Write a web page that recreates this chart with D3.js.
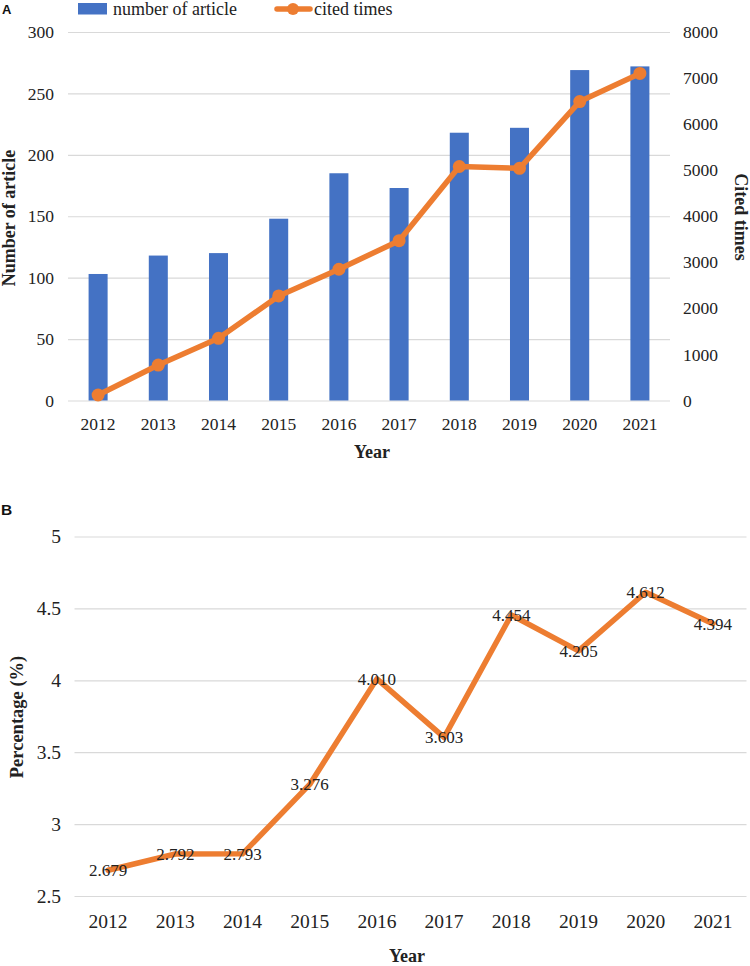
<!DOCTYPE html>
<html>
<head>
<meta charset="utf-8">
<script src="https://cdn.jsdelivr.net/npm/d3@7"></script>
<style>
  html, body { margin: 0; padding: 0; background: #fff; }
  svg { display: block; }
  text { font-family: "Liberation Serif", "Times New Roman", serif; fill: #222; }
  text.panel { font-family: "Liberation Sans", Arial, sans-serif; font-weight: bold; fill: #111; }
</style>
</head>
<body>
<svg id="chart" width="750" height="966"></svg>
<script>
// ---------------- DATA ----------------
const years = ["2012","2013","2014","2015","2016","2017","2018","2019","2020","2021"];
const articleCounts = [103, 118, 120, 148, 185, 173, 218, 222, 269, 272];
const citedTimes = [120, 770, 1350, 2270, 2850, 3470, 5080, 5040, 6490, 7100];
const percentages = [2.679, 2.792, 2.793, 3.276, 4.010, 3.603, 4.454, 4.205, 4.612, 4.394];
const leftTicksA = [0, 50, 100, 150, 200, 250, 300];
const rightTicksA = [0, 1000, 2000, 3000, 4000, 5000, 6000, 7000, 8000];
const ticksB = [2.5, 3, 3.5, 4, 4.5, 5];
const percentLabels = ["2.679","2.792","2.793","3.276","4.010","3.603","4.454","4.205","4.612","4.394"];

const BLUE = "#4472C4", ORANGE = "#ED7D31", GRID = "#d9d9d9";
const svg = d3.select("#chart");
const plain = d3.format("");

// ---------------- PANEL A ----------------
const A = { left: 68, right: 670, top: 32, bottom: 400.5 };
const xA = d3.scaleBand().domain(years).range([A.left, A.right]).paddingInner(0.684).paddingOuter(0.342);
const yL = d3.scaleLinear().domain([0, 300]).range([A.bottom, A.top]);
const yR = d3.scaleLinear().domain([0, 8000]).range([A.bottom, A.top]);

const gA = svg.append("g");

// left axis with gridlines
const axL = gA.append("g").attr("transform", `translate(${A.left},0)`)
  .call(d3.axisLeft(yL).tickValues(leftTicksA).tickFormat(plain).tickSize(-(A.right - A.left)).tickPadding(14));
axL.select(".domain").remove();
axL.selectAll(".tick line").attr("stroke", GRID).attr("stroke-width", 1.2);
axL.selectAll(".tick text").attr("font-size", 17.5);

// right axis
const axR = gA.append("g").attr("transform", `translate(${A.right},0)`)
  .call(d3.axisRight(yR).tickValues(rightTicksA).tickFormat(plain).tickSize(0).tickPadding(13));
axR.select(".domain").remove();
axR.selectAll(".tick text").attr("font-size", 17.5);

// bars
gA.append("g").selectAll("rect").data(years).join("rect")
  .attr("x", d => xA(d))
  .attr("width", xA.bandwidth())
  .attr("y", (d, i) => yL(articleCounts[i]))
  .attr("height", (d, i) => A.bottom - yL(articleCounts[i]))
  .attr("fill", BLUE);

// x axis
const axXA = gA.append("g").attr("transform", `translate(0,${A.bottom})`)
  .call(d3.axisBottom(xA).tickSize(0).tickPadding(17));
axXA.select(".domain").remove();
axXA.selectAll(".tick text").attr("font-size", 17.5);

// cited line
const cx = d => xA(d) + xA.bandwidth() / 2;
const lineA = d3.line().x((d, i) => cx(years[i])).y(d => yR(d));
gA.append("path").datum(citedTimes)
  .attr("d", lineA).attr("fill", "none")
  .attr("stroke", ORANGE).attr("stroke-width", 5.5)
  .attr("stroke-linejoin", "round").attr("stroke-linecap", "round");
gA.append("g").selectAll("circle").data(citedTimes).join("circle")
  .attr("cx", (d, i) => cx(years[i])).attr("cy", d => yR(d))
  .attr("r", 6.5).attr("fill", ORANGE);

// axis titles
gA.append("text").attr("transform", `translate(15,218) rotate(-90)`)
  .attr("text-anchor", "middle").attr("font-size", 18).attr("font-weight", "bold")
  .text("Number of article");
gA.append("text").attr("transform", `translate(735,217) rotate(90)`)
  .attr("text-anchor", "middle").attr("font-size", 18).attr("font-weight", "bold")
  .text("Cited times");
gA.append("text").attr("x", 372).attr("y", 458)
  .attr("text-anchor", "middle").attr("font-size", 18).attr("font-weight", "bold")
  .text("Year");

// legend
const lg = gA.append("g");
lg.append("rect").attr("x", 78).attr("y", 3).attr("width", 29).attr("height", 11.5).attr("fill", BLUE);
lg.append("text").attr("x", 113).attr("y", 15).attr("font-size", 18).text("number of article");
lg.append("line").attr("x1", 277).attr("x2", 310).attr("y1", 9).attr("y2", 9)
  .attr("stroke", ORANGE).attr("stroke-width", 5.5).attr("stroke-linecap", "round");
lg.append("circle").attr("cx", 293).attr("cy", 9).attr("r", 6).attr("fill", ORANGE);
lg.append("text").attr("x", 314).attr("y", 15).attr("font-size", 18).text("cited times");

// panel letter
svg.append("text").attr("class", "panel").attr("x", 2).attr("y", 14)
  .attr("font-size", 13).text("A");

// ---------------- PANEL B ----------------
const B = { left: 74.5, right: 746.5, top: 536.5, bottom: 896 };
const xB = d3.scaleBand().domain(years).range([B.left, B.right]).padding(0);
const yB = d3.scaleLinear().domain([2.5, 5]).range([B.bottom, B.top]);
const gB = svg.append("g");

const axLB = gB.append("g").attr("transform", `translate(${B.left},0)`)
  .call(d3.axisLeft(yB).tickValues(ticksB).tickFormat(plain).tickSize(-(B.right - B.left)).tickPadding(13.5));
axLB.select(".domain").remove();
axLB.selectAll(".tick line").attr("stroke", GRID).attr("stroke-width", 1.2);
axLB.selectAll(".tick text").attr("font-size", 19.5);

const axXB = gB.append("g").attr("transform", `translate(0,${B.bottom})`)
  .call(d3.axisBottom(xB).tickSize(0).tickPadding(18));
axXB.select(".domain").remove();
axXB.selectAll(".tick text").attr("font-size", 19.5);

const cxB = d => xB(d) + xB.bandwidth() / 2;
const lineB = d3.line().x((d, i) => cxB(years[i])).y(d => yB(d));
gB.append("path").datum(percentages)
  .attr("d", lineB).attr("fill", "none")
  .attr("stroke", ORANGE).attr("stroke-width", 5.5)
  .attr("stroke-linejoin", "round").attr("stroke-linecap", "round");

gB.append("g").selectAll("text").data(percentages).join("text")
  .attr("x", (d, i) => cxB(years[i])).attr("y", d => yB(d))
  .attr("dy", "0.35em").attr("text-anchor", "middle").attr("font-size", 17)
  .text((d, i) => percentLabels[i]);

gB.append("text").attr("transform", `translate(23,717) rotate(-90)`)
  .attr("text-anchor", "middle").attr("font-size", 18.5).attr("font-weight", "bold")
  .text("Percentage (%)");
gB.append("text").attr("x", 407).attr("y", 962)
  .attr("text-anchor", "middle").attr("font-size", 18).attr("font-weight", "bold")
  .text("Year");

svg.append("text").attr("class", "panel").attr("x", 1).attr("y", 515)
  .attr("font-size", 15.5).text("B");
</script>
</body>
</html>
